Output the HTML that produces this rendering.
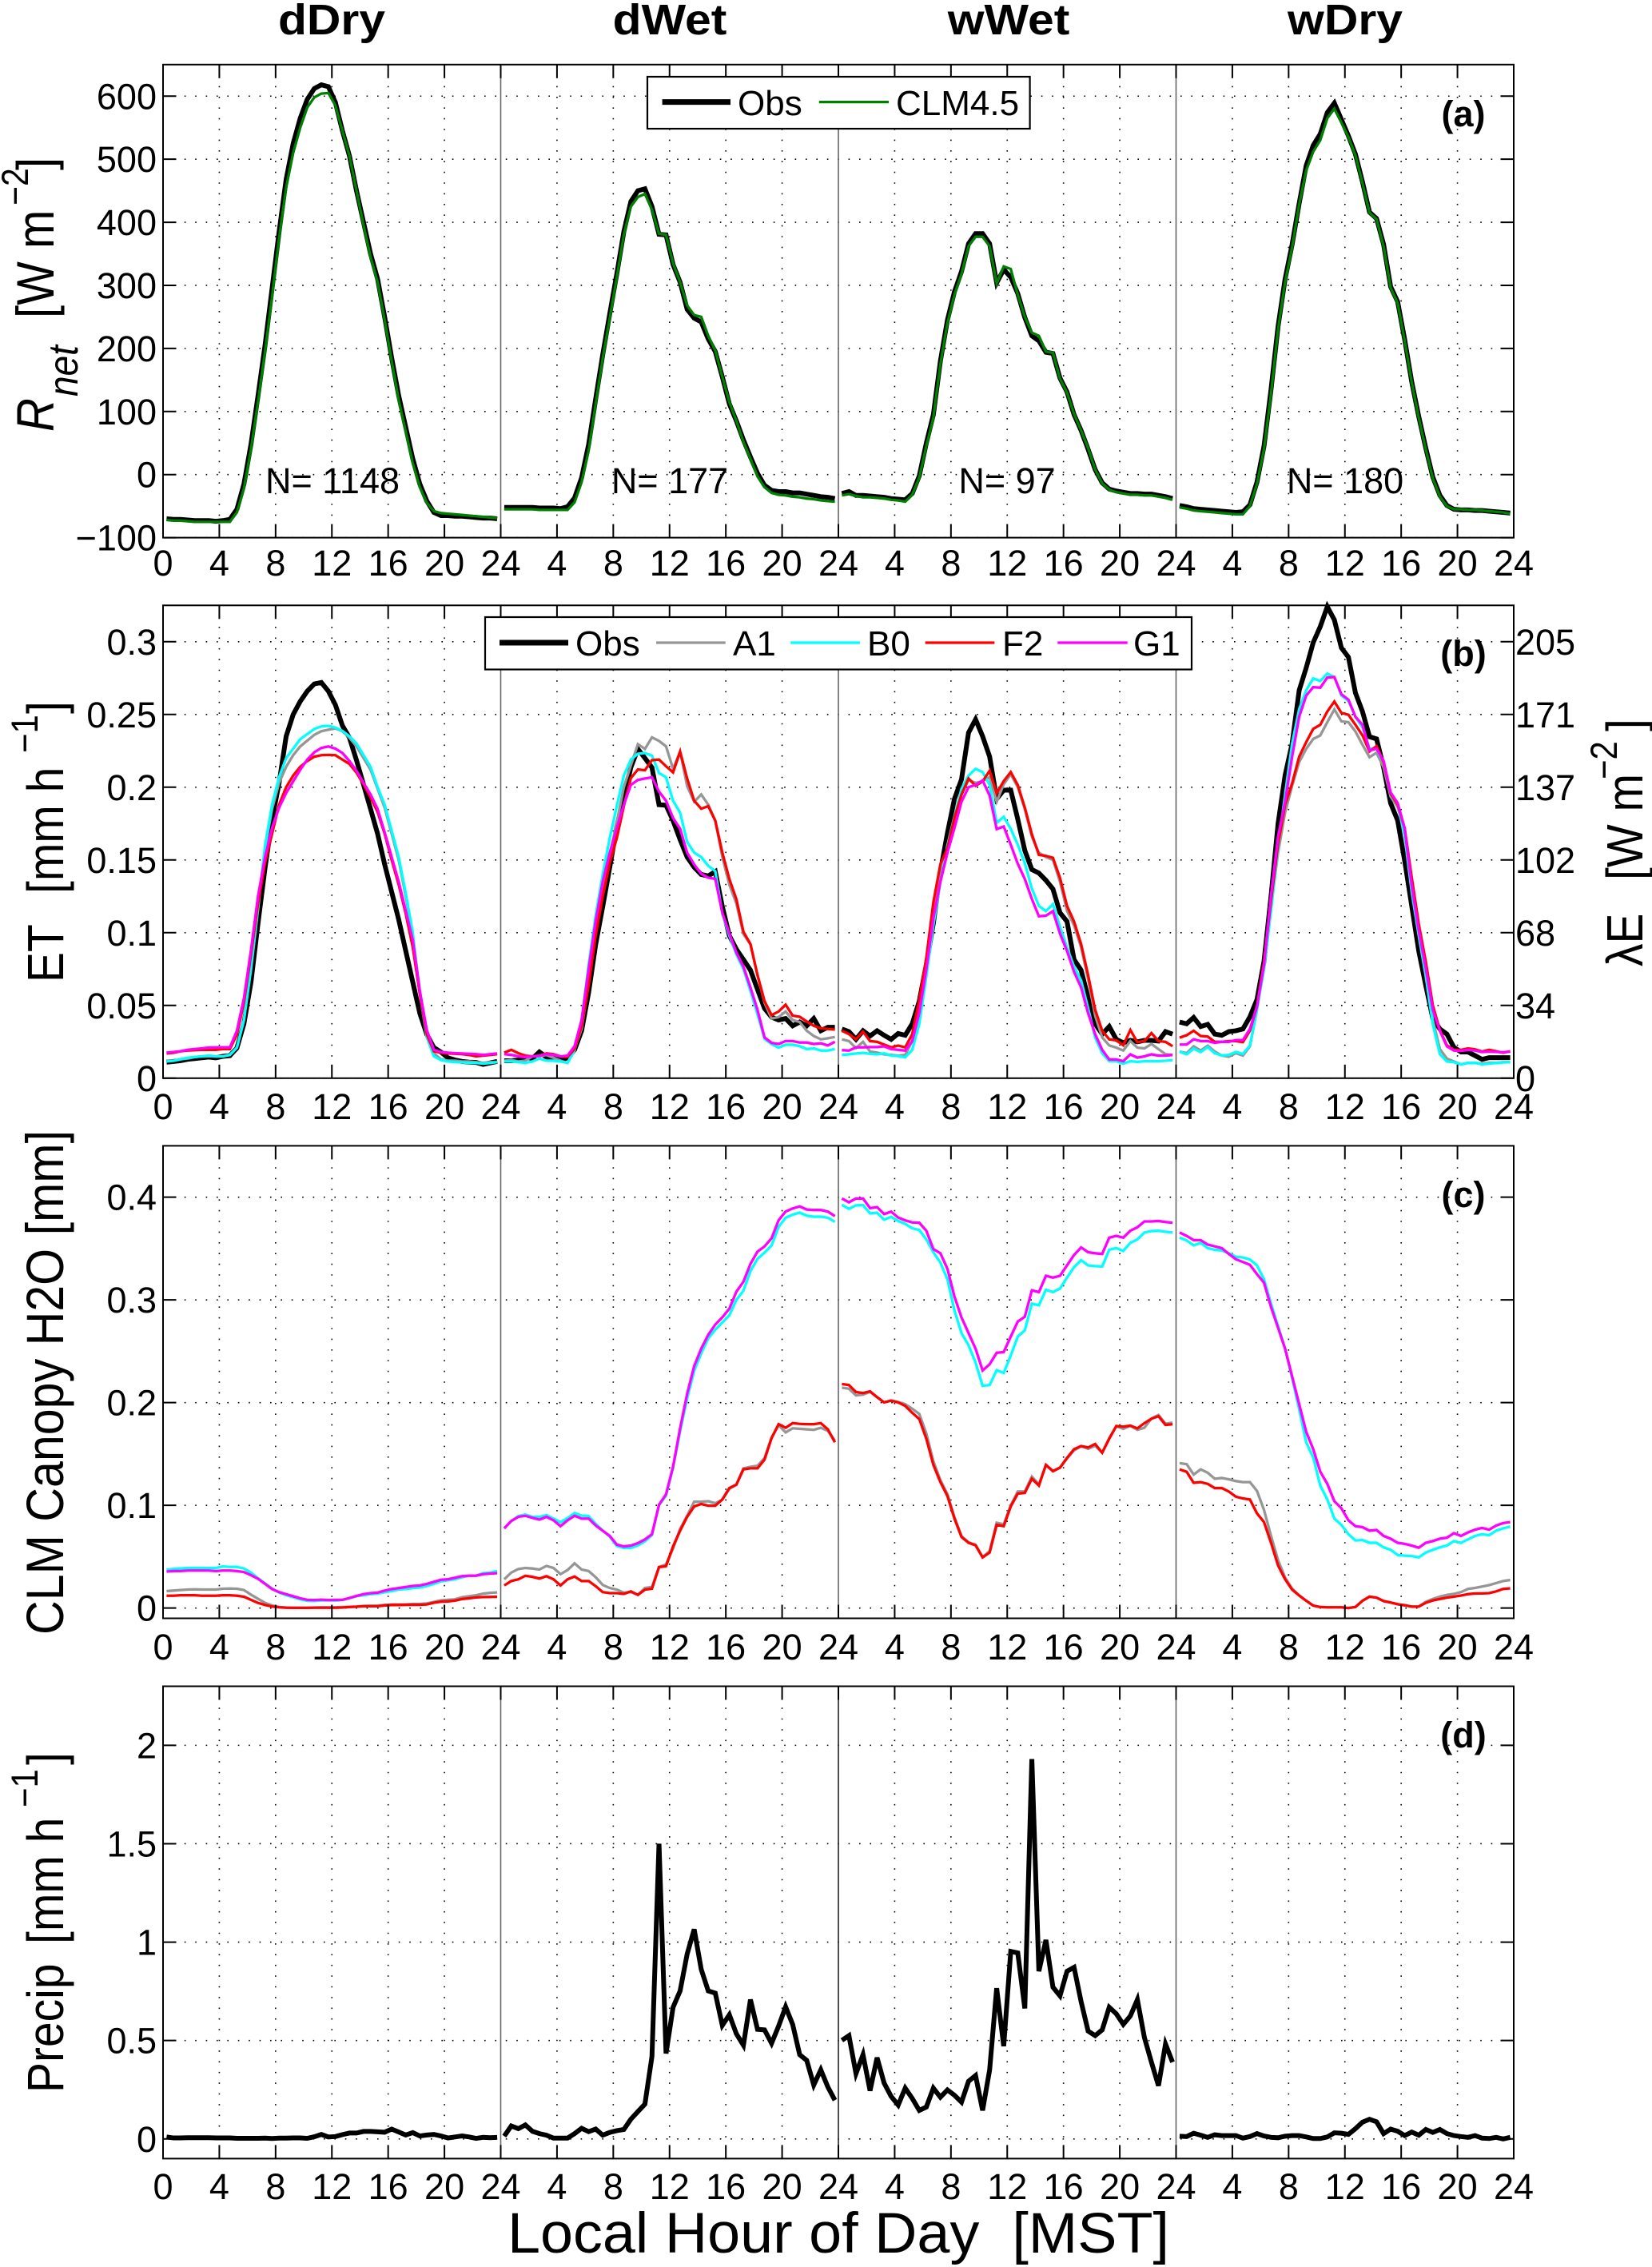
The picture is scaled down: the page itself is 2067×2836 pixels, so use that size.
<!DOCTYPE html>
<html lang="en">
<head>
<meta charset="utf-8">
<title>Diurnal composites by regime</title>
<style>
html,body{margin:0;padding:0;background:#fff;}
svg{display:block;}
text{font-family:"Liberation Sans",sans-serif;fill:#000;white-space:pre;}
</style>
</head>
<body>
<svg id="figure" xmlns="http://www.w3.org/2000/svg" width="2067" height="2836" viewBox="0 0 2067 2836">
<rect x="0" y="0" width="2067" height="2836" fill="#fff"/>
<g id="grid-layer"></g>
<g id="series-layer"></g>
<g id="axes-layer"></g>

<g font-weight="bold" font-size="54" text-anchor="middle">
<text transform="translate(415,43) scale(1.09,1)">dDry</text>
<text transform="translate(838,43) scale(1.09,1)">dWet</text>
<text transform="translate(1262,43) scale(1.09,1)">wWet</text>
<text transform="translate(1683,43) scale(1.09,1)">wDry</text>
</g>

<g font-size="45" text-anchor="middle">
<text x="416" y="617">N= 1148</text>
<text x="838" y="617">N= 177</text>
<text x="1260" y="617">N= 97</text>
<text x="1683" y="617">N= 180</text>
</g>

<g font-size="45" font-weight="bold" text-anchor="middle">
<text x="1831" y="158">(a)</text>
<text x="1831" y="833">(b)</text>
<text x="1831" y="1510">(c)</text>
<text x="1831" y="2186">(d)</text>
</g>

<g>
<rect x="810" y="96" width="478.6" height="65" fill="#fff" stroke="#000" stroke-width="2.2"/>
<line x1="828.6" x2="914" y1="127.6" y2="127.6" stroke="#000" stroke-width="7"/>
<text x="923" y="144" font-size="44">Obs</text>
<line x1="1024.8" x2="1112" y1="127.6" y2="127.6" stroke="#008000" stroke-width="3.3"/>
<text x="1121" y="144" font-size="44">CLM4.5</text>
</g>

<g>
<rect x="607" y="772" width="884" height="65.5" fill="#fff" stroke="#000" stroke-width="2.2"/>
<line x1="625" x2="711" y1="804" y2="804" stroke="#000" stroke-width="7"/>
<text x="720" y="820" font-size="44">Obs</text>
<line x1="821" x2="907.7" y1="804" y2="804" stroke="#969696" stroke-width="3.3"/>
<text x="917" y="820" font-size="44">A1</text>
<line x1="989.3" x2="1076" y1="804" y2="804" stroke="#00ffff" stroke-width="3.3"/>
<text x="1085" y="820" font-size="44">B0</text>
<line x1="1157.7" x2="1244.3" y1="804" y2="804" stroke="#ff0000" stroke-width="3.3"/>
<text x="1254" y="820" font-size="44">F2</text>
<line x1="1323.3" x2="1410.7" y1="804" y2="804" stroke="#ff00ff" stroke-width="3.3"/>
<text x="1418" y="820" font-size="44">G1</text>
</g>

<g>
<text font-size="58" font-style="italic" transform="translate(67,540) scale(1.13,1) rotate(-90)">R</text>
<text font-size="46" font-style="italic" transform="translate(97,496) scale(1.13,1) rotate(-90)">net</text>
<text font-size="58" transform="translate(67,398) scale(1.13,1) rotate(-90)">[W m</text>
<text font-size="41" transform="translate(35,257) scale(1.15,1) rotate(-90)">−2</text>
<text font-size="58" transform="translate(66,213) scale(1.1,1) rotate(-90)">]</text>
</g>

<g>
<text font-size="57" transform="translate(79,1229) scale(1.13,1) rotate(-90)">ET</text>
<text font-size="57" transform="translate(79,1118) scale(1.13,1) rotate(-90)">[mm h</text>
<text font-size="42" transform="translate(47,942) scale(1.13,1) rotate(-90)">−1</text>
<text font-size="57" transform="translate(79,893) scale(1.13,1) rotate(-90)">]</text>
</g>

<g>
<text font-size="57" transform="translate(2055,1209) scale(1.13,1) rotate(-90)">λE</text>
<text font-size="57" transform="translate(2055,1101) scale(1.13,1) rotate(-90)">[W m</text>
<text font-size="42" transform="translate(2023,975) scale(1.13,1) rotate(-90)">−2</text>
<text font-size="57" transform="translate(2055,915) scale(1.13,1) rotate(-90)">]</text>
</g>

<text font-size="58" textLength="631" lengthAdjust="spacingAndGlyphs" transform="translate(79,2045) scale(1.13,1) rotate(-90)">CLM Canopy H2O [mm]</text>

<g>
<text font-size="57" transform="translate(79,2618) scale(1.13,1) rotate(-90)">Precip</text>
<text font-size="57" transform="translate(79,2432) scale(1.13,1) rotate(-90)">[mm h</text>
<text font-size="42" transform="translate(47,2261) scale(1.13,1) rotate(-90)">−1</text>
<text font-size="57" transform="translate(79,2208) scale(1.13,1) rotate(-90)">]</text>
</g>

<text x="635" y="2818" font-size="71" textLength="828" lengthAdjust="spacingAndGlyphs">Local Hour of Day  [MST]</text>

<script>
const hours = [0.25,0.75,1.25,1.75,2.25,2.75,3.25,3.75,4.25,4.75,5.25,5.75,6.25,6.75,7.25,7.75,8.25,8.75,9.25,9.75,10.25,10.75,11.25,11.75,12.25,12.75,13.25,13.75,14.25,14.75,15.25,15.75,16.25,16.75,17.25,17.75,18.25,18.75,19.25,19.75,20.25,20.75,21.25,21.75,22.25,22.75,23.25,23.75];

const hourTickValues = [0,4,8,12,16,20,24];
const rnetTicks = [-100,0,100,200,300,400,500,600];
const rnetTickLabels = ['−100','0','100','200','300','400','500','600'];
const etTicks = [0,0.05,0.1,0.15,0.2,0.25,0.3];
const etTickLabels = ['0','0.05','0.1','0.15','0.2','0.25','0.3'];
const latentTickLabels = ['0','34','68','102','137','171','205'];
const canopyTicks = [0,0.1,0.2,0.3,0.4];
const canopyTickLabels = ['0','0.1','0.2','0.3','0.4'];
const precipTicks = [0,0.5,1,1.5,2];
const precipTickLabels = ['0','0.5','1','1.5','2'];

/* Panel (a) net radiation */
const rnetObsDDry = [-70,-71,-71,-72,-73,-73,-73,-74,-73,-71,-55,-15,48,125,205,295,385,468,525,565,595,612,618,615,590,545,505,450,400,350,310,250,185,125,75,25,-15,-42,-60,-65,-65,-66,-66,-67,-68,-69,-69,-70];
const rnetClmDDry = [-72,-73,-73,-74,-75,-75,-75,-75,-75,-75,-60,-22,40,115,195,282,375,455,510,550,582,598,604,605,585,545,505,450,395,345,305,245,180,118,68,18,-20,-45,-58,-61,-62,-63,-64,-65,-66,-67,-68,-69];
const rnetObsDWet = [-52,-52,-52,-52,-52,-53,-53,-53,-54,-51,-37,-5,48,120,190,255,318,385,433,450,453,425,381,380,333,305,262,248,242,215,195,155,112,85,55,28,2,-17,-25,-27,-27,-29,-29,-31,-33,-35,-36,-38];
const rnetClmDWet = [-55,-55,-55,-55,-55,-56,-56,-56,-56,-56,-44,-12,38,112,184,248,312,380,425,440,445,420,382,380,335,305,268,253,250,220,197,155,115,85,52,25,-3,-20,-29,-32,-33,-35,-36,-38,-39,-41,-42,-43];
const rnetObsWWet = [-30,-27,-33,-33,-34,-35,-36,-38,-39,-40,-30,-2,50,95,180,245,290,322,366,382,382,366,304,325,313,287,249,220,212,194,192,153,131,95,70,40,8,-13,-23,-26,-28,-30,-30,-31,-31,-33,-35,-38];
const rnetClmWWet = [-33,-31,-34,-36,-36,-37,-38,-40,-41,-43,-32,-5,45,90,175,240,285,318,362,377,377,362,303,330,326,285,250,225,220,195,193,152,130,96,70,42,8,-14,-24,-28,-30,-32,-32,-33,-33,-35,-37,-40];
const rnetObsWDry = [-49,-51,-54,-55,-56,-57,-58,-59,-60,-59,-48,-12,45,135,235,310,365,430,490,522,540,574,589,563,537,508,464,416,406,365,298,274,214,147,92,42,-4,-33,-49,-55,-56,-56,-57,-57,-58,-59,-60,-61];
const rnetClmWDry = [-52,-54,-57,-58,-59,-60,-61,-62,-63,-63,-50,-15,40,128,230,305,360,428,482,512,530,565,580,558,535,506,462,415,405,362,296,272,212,146,90,40,-6,-35,-50,-55,-55,-56,-56,-57,-58,-59,-60,-62];

/* Panel (b) evapotranspiration */
const etObsDDry = [.011,.0115,.012,.013,.0135,.014,.0145,.014,.015,.0155,.0207,.0374,.066,.1065,.1446,.178,.203,.235,.25,.259,.266,.271,.272,.266,.2566,.2423,.234,.2185,.2018,.185,.168,.147,.128,.109,.0875,.066,.0446,.03,.021,.018,.014,.0125,.0115,.011,.0108,.0095,.0105,.0115];
const etA1DDry = [.012,.012,.013,.0135,.0145,.015,.015,.015,.015,.016,.021,.04,.075,.116,.158,.185,.203,.214,.222,.228,.232,.236,.2385,.2395,.2404,.2385,.234,.228,.22,.212,.199,.186,.168,.15,.125,.098,.06,.03,.017,.013,.012,.012,.0115,.0115,.011,.0105,.011,.011];
const etB0DDry = [.0115,.012,.013,.014,.0145,.015,.0155,.015,.015,.016,.021,.04,.075,.117,.16,.188,.207,.22,.2265,.233,.2365,.24,.2418,.2422,.241,.2387,.235,.23,.222,.214,.2,.188,.17,.152,.127,.1,.058,.028,.015,.0125,.0115,.011,.0108,.0105,.0105,.01,.0105,.011];
const etF2DDry = [.017,.0175,.0185,.019,.0193,.0195,.0195,.0195,.02,.02,.03,.052,.085,.12,.148,.168,.188,.2,.208,.214,.218,.221,.222,.2222,.222,.219,.216,.21,.202,.193,.183,.168,.15,.133,.113,.09,.058,.03,.0185,.0175,.017,.0168,.0165,.016,.015,.0155,.016,.0165];
const etG1DDry = [.0175,.018,.0185,.0195,.02,.0205,.021,.0212,.0212,.0212,.0326,.055,.088,.125,.152,.172,.186,.196,.204,.212,.219,.224,.227,.228,.2265,.2235,.218,.2113,.203,.195,.185,.169,.152,.135,.115,.095,.06,.033,.0195,.018,.0175,.0172,.017,.0168,.0165,.016,.0165,.017];

const etObsDWet = [.012,.012,.0125,.0145,.0135,.018,.0145,.0135,.0125,.014,.0195,.0326,.059,.092,.118,.145,.173,.192,.2137,.2263,.22,.2135,.188,.1876,.177,.164,.152,.145,.14,.139,.142,.118,.098,.0886,.0815,.0743,.061,.048,.042,.04,.041,.036,.0386,.036,.041,.0326,.035,.035];
const etA1DWet = [.012,.0125,.0115,.012,.015,.015,.016,.014,.012,.0105,.02,.034,.065,.1,.128,.153,.176,.2,.215,.2296,.2263,.2343,.2318,.2281,.2126,.2245,.2007,.19,.195,.188,.177,.152,.133,.12,.099,.092,.071,.052,.041,.042,.0458,.04,.0386,.0326,.029,.0267,.0274,.0283];
const etB0DWet = [.0115,.0115,.011,.0105,.0115,.0135,.012,.012,.0115,.0105,.019,.04,.078,.112,.14,.165,.187,.208,.219,.223,.2235,.2217,.2098,.2068,.1907,.1825,.1624,.155,.152,.146,.1423,.113,.098,.085,.075,.06,.044,.027,.0235,.021,.023,.023,.022,.02,.0205,.019,.019,.02];
const etF2DWet = [.0175,.0195,.0172,.0155,.015,.0155,.017,.0165,.015,.0145,.02,.036,.064,.098,.125,.148,.165,.187,.2062,.2122,.2117,.2186,.219,.2144,.2102,.2245,.206,.1907,.1852,.187,.177,.1551,.1369,.123,.1006,.0922,.0708,.053,.0434,.0458,.0505,.043,.0422,.039,.036,.0343,.0338,.0334];
const etG1DWet = [.0165,.016,.015,.0145,.015,.0155,.0165,.016,.015,.0155,.022,.04,.075,.108,.135,.155,.172,.188,.2016,.205,.206,.2068,.197,.1907,.1788,.1715,.155,.1469,.1405,.1378,.137,.1137,.0994,.0863,.0767,.0624,.047,.028,.0243,.0235,.0255,.0255,.0245,.0245,.0235,.024,.0225,.025];

const etObsWWet = [.0338,.032,.0267,.0326,.029,.0326,.0295,.0267,.0307,.0295,.0374,.053,.078,.1065,.142,.1685,.192,.2054,.2375,.2466,.235,.221,.192,.198,.198,.178,.1565,.1434,.141,.136,.13,.1137,.1077,.0815,.0743,.0553,.0374,.0303,.0355,.0267,.0243,.026,.025,.026,.026,.0255,.032,.0303];
const etA1WWet = [.0267,.0255,.0207,.025,.0183,.0176,.0164,.016,.0155,.016,.0255,.05,.08,.118,.145,.158,.178,.195,.205,.203,.204,.207,.19,.202,.209,.2,.185,.166,.155,.152,.15,.135,.115,.105,.09,.068,.043,.028,.0225,.021,.019,.0255,.021,.0205,.0235,.02,.0165,.016];
const etB0WWet = [.016,.0164,.017,.0174,.0167,.0164,.017,.0155,.0152,.0143,.0195,.0374,.07,.105,.135,.16,.18,.1989,.208,.2126,.2104,.2016,.1755,.1797,.1714,.1605,.1478,.1303,.1184,.1148,.1196,.104,.0898,.0767,.0672,.048,.0279,.0172,.0117,.0117,.01,.0117,.0112,.0117,.0117,.0117,.012,.0124];
const etF2WWet = [.0326,.0303,.0267,.032,.0255,.025,.0231,.0212,.0224,.0212,.0303,.054,.0827,.1208,.147,.158,.179,.195,.206,.201,.204,.2113,.1958,.2042,.2104,.2015,.186,.1677,.1535,.1528,.1515,.1377,.1184,.1077,.0922,.0708,.047,.0326,.0267,.026,.0226,.0331,.0248,.0255,.031,.0255,.025,.022];
const etG1WWet = [.0193,.019,.0212,.0212,.0214,.0214,.0219,.02,.0195,.019,.0255,.045,.075,.11,.135,.155,.172,.19,.2,.2016,.2047,.1943,.1712,.173,.1605,.1474,.1369,.1232,.1113,.1117,.1148,.0994,.0874,.0731,.0624,.0446,.0303,.0195,.0129,.0129,.0117,.0164,.0141,.015,.0164,.0155,.0155,.016];

const etObsWDry = [.0386,.0374,.0417,.0355,.037,.0303,.0295,.032,.0326,.0338,.0422,.054,.0803,.125,.175,.2082,.23,.2666,.2821,.2995,.3104,.3241,.315,.2958,.2894,.2648,.252,.2347,.2332,.2137,.189,.1772,.1494,.1184,.0874,.0636,.041,.0338,.0303,.0212,.018,.018,.0155,.0129,.0141,.0141,.0141,.0141];
const etA1WDry = [.0183,.0172,.0219,.019,.0224,.0183,.0155,.0148,.0172,.0155,.0219,.047,.078,.118,.155,.1827,.2009,.2173,.2264,.2332,.2356,.2447,.2535,.2453,.2447,.2383,.2292,.2206,.2237,.2137,.1936,.1863,.169,.136,.103,.073,.04,.02,.0135,.0115,.0095,.0105,.0105,.01,.0105,.0105,.011,.011];
const etB0WDry = [.0183,.0164,.0203,.018,.0214,.0172,.0155,.016,.018,.0167,.0224,.047,.075,.115,.158,.195,.23,.2537,.2666,.2748,.273,.2781,.2757,.263,.2593,.2484,.241,.2265,.2265,.2173,.1945,.1881,.1662,.128,.098,.07,.037,.0165,.0115,.011,.0095,.0105,.0105,.0095,.01,.0105,.0108,.011];
const etF2WDry = [.0279,.0295,.0326,.029,.0286,.025,.025,.0255,.0255,.0248,.0326,.0493,.08,.122,.1608,.1881,.2027,.221,.231,.2401,.2429,.252,.2589,.2511,.2498,.2429,.2356,.2246,.2283,.2173,.1954,.1881,.1717,.138,.106,.08,.05,.033,.0225,.0195,.0195,.0205,.0198,.0183,.0195,.0185,.0175,.0185];
const etG1WDry = [.0231,.0231,.0267,.0255,.0255,.0243,.025,.025,.0262,.0262,.0338,.0493,.0779,.1256,.166,.19,.221,.2484,.263,.2688,.2684,.2754,.2757,.2639,.2602,.2484,.2429,.2252,.2265,.2182,.1964,.1891,.1717,.1327,.1017,.0755,.047,.0326,.0219,.019,.0188,.0195,.019,.018,.0183,.018,.0178,.0183];

/* Panel (c) canopy water */
const canopyA1DDry = [.0165,.017,.0175,.018,.0182,.018,.018,.018,.0188,.019,.0188,.0175,.013,.009,.005,.0025,.001,.0005,.0003,.0003,.0003,.0005,.0007,.0007,.0007,.001,.0012,.0015,.002,.0022,.0022,.003,.0035,.0035,.0035,.004,.004,.0045,.006,.0075,.008,.0085,.0105,.0115,.0125,.014,.0148,.0152];
const canopyB0DDry = [.0375,.038,.0385,.039,.039,.039,.039,.039,.0405,.04,.04,.0385,.0345,.029,.024,.019,.015,.0125,.0105,.0085,.007,.0068,.0074,.0074,.0072,.0078,.0095,.0115,.0125,.0135,.014,.0155,.0165,.018,.0185,.0195,.02,.0215,.0235,.026,.027,.028,.03,.0315,.0315,.034,.0345,.036];
const canopyF2DDry = [.012,.012,.0125,.0125,.0125,.012,.012,.012,.0125,.0125,.012,.011,.008,.005,.003,.0015,.0007,.0003,.0002,.0002,.0002,.0003,.0003,.0003,.0003,.0005,.001,.0013,.0018,.0018,.0018,.0025,.003,.003,.0032,.0032,.0032,.0035,.0052,.0062,.0065,.0072,.0088,.0095,.0103,.0107,.0108,.011];
const canopyG1DDry = [.0355,.036,.036,.0365,.0365,.0365,.0365,.036,.0365,.0365,.036,.035,.032,.0285,.0235,.0185,.0155,.0135,.0115,.0095,.008,.0078,.0082,.0078,.008,.008,.0098,.0118,.0135,.0145,.015,.017,.0185,.0195,.0205,.0215,.022,.0235,.0255,.0275,.028,.0295,.031,.0315,.0315,.033,.0335,.034];

const canopyA1DWet = [.028,.0345,.038,.039,.0385,.0375,.041,.039,.033,.037,.0435,.0375,.036,.03,.0225,.0195,.018,.015,.0155,.013,.0195,.0205,.04,.0425,.058,.077,.09,.1035,.1035,.104,.102,.1055,.116,.12,.136,.1375,.1385,.146,.166,.178,.171,.175,.1745,.174,.1735,.1755,.1725,.163];
const canopyB0DWet = [.0776,.0847,.0895,.091,.0888,.0888,.0905,.0871,.0835,.0875,.0925,.09,.0895,.082,.0755,.0695,.0605,.0585,.0585,.061,.065,.071,.1,.1095,.1365,.172,.204,.231,.248,.2625,.271,.278,.285,.3,.309,.328,.34,.346,.353,.371,.38,.383,.385,.382,.381,.381,.38,.376];
const canopyF2DWet = [.022,.0263,.028,.0314,.0304,.0287,.031,.028,.022,.028,.0307,.0263,.0263,.0213,.0155,.0145,.0145,.0138,.0162,.0128,.0179,.0189,.0398,.0408,.06,.0753,.0888,.0989,.1013,.0996,.0996,.1057,.1168,.1202,.135,.136,.136,.1445,.1654,.179,.1755,.18,.1793,.179,.179,.18,.174,.1614];
const canopyG1DWet = [.0776,.0847,.0888,.0898,.0878,.0861,.0888,.0854,.0797,.0854,.0898,.0871,.0871,.0804,.0753,.0702,.0618,.06,.0608,.0632,.0668,.0719,.1006,.1107,.1377,.175,.2086,.2356,.2525,.266,.276,.283,.2914,.308,.3177,.335,.347,.352,.36,.3775,.386,.389,.391,.388,.3875,.3875,.386,.3815];

const canopyA1WWet = [.2145,.2135,.207,.2078,.2105,.2053,.2002,.202,.2005,.1985,.194,.189,.17,.143,.1245,.111,.0885,.07,.064,.0615,.0495,.0555,.083,.0815,.1,.1135,.1135,.128,.1205,.139,.133,.1365,.1455,.1535,.1575,.155,.158,.1512,.1655,.177,.1745,.1775,.1735,.1755,.1845,.188,.1795,.1805];
const canopyB0WWet = [.3926,.3886,.392,.3923,.3842,.3849,.3781,.3808,.3768,.3741,.3697,.368,.3589,.3464,.3363,.3201,.2897,.2677,.2559,.239,.2164,.2171,.2316,.2289,.2458,.2643,.2704,.2964,.2947,.3099,.3076,.311,.3217,.3319,.3386,.3336,.3329,.3325,.3488,.3504,.3477,.3555,.3589,.3656,.367,.3673,.3663,.3656];
const canopyF2WWet = [.2181,.2171,.2103,.2093,.211,.2053,.2002,.2019,.2002,.1968,.1901,.184,.1648,.1394,.1226,.109,.0871,.0692,.0635,.0611,.0493,.054,.081,.0797,.0989,.1114,.1121,.1259,.1192,.1394,.1334,.1367,.1462,.1546,.1577,.1563,.1597,.1512,.1648,.1772,.1766,.1776,.1749,.18,.1843,.1867,.1783,.1789];
const canopyG1WWet = [.3987,.395,.3987,.3987,.3893,.3903,.3835,.3859,.3801,.3774,.3754,.3751,.3673,.3494,.3454,.3302,.3032,.2829,.2677,.2525,.2313,.2373,.2485,.2492,.2643,.2789,.2836,.3093,.3076,.3234,.3217,.3234,.3336,.3437,.3511,.3464,.3454,.3447,.3606,.3623,.3606,.3673,.3707,.3764,.3764,.3768,.3758,.3751];

const canopyA1WDry = [.1411,.1401,.13,.135,.1317,.1259,.1266,.1253,.1236,.1226,.1226,.1141,.0955,.0702,.0466,.0297,.0189,.0122,.0071,.0024,.001,.0007,.0007,.0007,0,.001,.0071,.0111,.0101,.0068,.0054,.0037,.0027,.0014,.0014,.0061,.0088,.0111,.0128,.0138,.0155,.0186,.0196,.0209,.0223,.0243,.0263,.0273];
const canopyB0WDry = [.3606,.3579,.3531,.3555,.3504,.3488,.3481,.3454,.342,.3413,.3393,.3336,.3201,.2964,.2745,.2525,.2238,.1935,.1614,.1465,.1192,.1057,.0871,.081,.0719,.0658,.0662,.0635,.0635,.0591,.0567,.0517,.051,.0506,.0493,.054,.0567,.0591,.0608,.0652,.0635,.0668,.0702,.0719,.0709,.0753,.0776,.0793];
const canopyF2WDry = [.135,.1327,.1219,.1226,.1209,.1168,.1168,.1134,.1084,.1067,.1057,.0922,.0837,.0635,.0415,.028,.0179,.0122,.0071,.0024,.001,.0007,.0007,.0007,0,.001,.0071,.0111,.0101,.0068,.0054,.0037,.0027,.0014,.0014,.0051,.0074,.0088,.0101,.0111,.0122,.0135,.0142,.0142,.0145,.0162,.0186,.0192];
const canopyG1WDry = [.3656,.3623,.3582,.3582,.3538,.3521,.3504,.3447,.3396,.3369,.3342,.3251,.3167,.293,.2728,.2525,.2255,.1985,.1715,.1546,.1327,.1209,.104,.0972,.0854,.0797,.0787,.0753,.076,.0702,.0675,.0635,.0625,.0608,.0587,.0635,.0652,.0675,.0685,.0729,.0702,.0736,.0763,.078,.0763,.0803,.0827,.0837];

/* Panel (d) precipitation */
const precipDDry = [.01,.005,.005,.006,.006,.006,.006,.005,.005,.005,.003,.003,.003,.003,.004,.002,.004,.004,.005,.005,.003,.011,.023,.01,.012,.022,.03,.03,.038,.038,.036,.034,.05,.035,.02,.032,.015,.02,.023,.015,.005,.01,.015,.01,.003,.008,.006,.008];
const precipDWet = [.014,.066,.052,.071,.039,.027,.019,.004,.004,.004,.027,.054,.037,.05,.019,.033,.042,.048,.1,.139,.177,.419,1.5,.434,.669,.752,.939,1.065,.862,.752,.741,.577,.631,.534,.476,.708,.557,.554,.486,.573,.671,.582,.428,.399,.274,.351,.264,.197];
const precipWWet = [.501,.525,.332,.428,.245,.413,.284,.216,.172,.258,.206,.145,.162,.258,.212,.249,.222,.187,.293,.322,.145,.351,.766,.471,.953,.945,.663,1.93,.852,1.011,.771,.727,.852,.872,.698,.548,.525,.554,.669,.636,.582,.625,.708,.515,.39,.27,.482,.39];
const precipWDry = [.014,.012,.029,.019,.008,.021,.017,.017,.017,.004,.012,.027,.015,.008,.006,.014,.017,.017,.01,.002,.002,.01,.031,.029,.023,.052,.085,.1,.087,.027,.05,.039,.017,.035,.019,.048,.033,.048,.027,.017,.012,.008,.017,.004,.002,.008,0,.008];

const NS = 'http://www.w3.org/2000/svg';
const LEFT = 204, SEG_W = 422.5, SEGMENTS = 4, RIGHT = LEFT + SEG_W * SEGMENTS;
const TICK_X = 17, TICK_Y = 16.5, DOT = '1.6 11.8';

const panelA = {id:'a', top:80.8, bottom:672.6, min:-100, max:650, labelY:720};
const panelB = {id:'b', top:757.3, bottom:1348.8, min:0, max:0.325, labelY:1400};
const panelC = {id:'c', top:1433.4, bottom:2024.5, min:-0.01, max:0.45, labelY:2076};
const panelD = {id:'d', top:2109.5, bottom:2700.4, min:-0.1, max:2.3, labelY:2751};

function xAxis(seg, hour) { return LEFT + seg * SEG_W + hour * SEG_W / 24; }
function yAxis(panel, value) { return panel.bottom - (value - panel.min) * (panel.bottom - panel.top) / (panel.max - panel.min); }

const gridLayer = document.getElementById('grid-layer');
const seriesLayer = document.getElementById('series-layer');
const axesLayer = document.getElementById('axes-layer');

function addLine(parent, x1, y1, x2, y2, color, width, dash) {
  const ln = document.createElementNS(NS, 'line');
  ln.setAttribute('x1', x1);
  ln.setAttribute('y1', y1);
  ln.setAttribute('x2', x2);
  ln.setAttribute('y2', y2);
  ln.setAttribute('stroke', color);
  ln.setAttribute('stroke-width', width);
  if (dash) ln.setAttribute('stroke-dasharray', dash);
  parent.appendChild(ln);
  return ln;
}

function addLabel(x, y, str, anchor) {
  const t = document.createElementNS(NS, 'text');
  t.setAttribute('x', x);
  t.setAttribute('y', y);
  t.setAttribute('font-size', 45);
  t.setAttribute('text-anchor', anchor);
  t.textContent = str;
  axesLayer.appendChild(t);
  return t;
}

function drawSeries(panel, seg, values, color, width, name) {
  const p = document.createElementNS(NS, 'path');
  const d = values.map(function (v, i) {
    return (i ? 'L' : 'M') + xAxis(seg, hours[i]).toFixed(2) + ' ' + yAxis(panel, v).toFixed(2);
  }).join('');
  p.setAttribute('d', d);
  p.setAttribute('fill', 'none');
  p.setAttribute('stroke', color);
  p.setAttribute('stroke-width', width);
  p.setAttribute('stroke-linejoin', 'miter');
  
  
  seriesLayer.appendChild(p);
}

function drawAxes(panel, yTicks, yLabels) {
  yTicks.forEach(function (v, i) {
    const y = yAxis(panel, v);
    const g = addLine(gridLayer, LEFT, y, RIGHT, y, '#000', 1.6, DOT);
    
    
    const tl = addLine(axesLayer, LEFT, y, LEFT + TICK_Y, y, '#000', 2);
    
    
    const tr = addLine(axesLayer, RIGHT - TICK_Y, y, RIGHT, y, '#000', 2);
    
    
    const lab = addLabel(LEFT - 8, y + 16, yLabels[i], 'end');
    
    
  });
  for (let seg = 0; seg < SEGMENTS; seg++) {
    hourTickValues.forEach(function (h) {
      const x = xAxis(seg, h);
      if (h === 0 && seg > 0) return;
      if (h > 0 && h < 24) {
        const g = addLine(gridLayer, x, panel.top, x, panel.bottom, '#000', 1.6, DOT);
        
        
      } else if (h === 24 && seg < SEGMENTS - 1) {
        const color = (panel.id === 'd' && seg === 1) ? '#222' : '#666';
        const dv = addLine(gridLayer, x, panel.top, x, panel.bottom, color, 1.6);
        
        
      }
      const tb = addLine(axesLayer, x, panel.bottom - TICK_X, x, panel.bottom, '#000', 2);
      
      
      const tt = addLine(axesLayer, x, panel.top, x, panel.top + TICK_X, '#000', 2);
      
      
      const lab = addLabel(x, panel.labelY, String(h), 'middle');
      
      
    });
  }
  const frame = document.createElementNS(NS, 'rect');
  frame.setAttribute('x', LEFT);
  frame.setAttribute('y', panel.top);
  frame.setAttribute('width', RIGHT - LEFT);
  frame.setAttribute('height', panel.bottom - panel.top);
  frame.setAttribute('fill', 'none');
  frame.setAttribute('stroke', '#000');
  frame.setAttribute('stroke-width', 2);
  
  
  axesLayer.appendChild(frame);
}

drawAxes(panelA, rnetTicks, rnetTickLabels);
drawAxes(panelB, etTicks, etTickLabels);
drawAxes(panelC, canopyTicks, canopyTickLabels);
drawAxes(panelD, precipTicks, precipTickLabels);

etTicks.forEach(function (v, i) {
  const lab = addLabel(RIGHT + 2, yAxis(panelB, v) + 16, latentTickLabels[i], 'start');
  
  
});

const BLACK = '#000', GREEN = '#008000', GRAY = '#969696', CYAN = '#00ffff', RED = '#ff0000', MAGENTA = '#ff00ff';
const THICK = 6, THIN = 3.3;

drawSeries(panelA, 0, rnetObsDDry, BLACK, THICK, 'rnet-obs-ddry');
drawSeries(panelA, 0, rnetClmDDry, GREEN, THIN, 'rnet-clm-ddry');
drawSeries(panelA, 1, rnetObsDWet, BLACK, THICK, 'rnet-obs-dwet');
drawSeries(panelA, 1, rnetClmDWet, GREEN, THIN, 'rnet-clm-dwet');
drawSeries(panelA, 2, rnetObsWWet, BLACK, THICK, 'rnet-obs-wwet');
drawSeries(panelA, 2, rnetClmWWet, GREEN, THIN, 'rnet-clm-wwet');
drawSeries(panelA, 3, rnetObsWDry, BLACK, THICK, 'rnet-obs-wdry');
drawSeries(panelA, 3, rnetClmWDry, GREEN, THIN, 'rnet-clm-wdry');

drawSeries(panelB, 0, etObsDDry, BLACK, THICK, 'et-obs-ddry');
drawSeries(panelB, 0, etA1DDry, GRAY, THIN, 'et-a1-ddry');
drawSeries(panelB, 0, etB0DDry, CYAN, THIN, 'et-b0-ddry');
drawSeries(panelB, 0, etF2DDry, RED, THIN, 'et-f2-ddry');
drawSeries(panelB, 0, etG1DDry, MAGENTA, THIN, 'et-g1-ddry');
drawSeries(panelB, 1, etObsDWet, BLACK, THICK, 'et-obs-dwet');
drawSeries(panelB, 1, etA1DWet, GRAY, THIN, 'et-a1-dwet');
drawSeries(panelB, 1, etB0DWet, CYAN, THIN, 'et-b0-dwet');
drawSeries(panelB, 1, etF2DWet, RED, THIN, 'et-f2-dwet');
drawSeries(panelB, 1, etG1DWet, MAGENTA, THIN, 'et-g1-dwet');
drawSeries(panelB, 2, etObsWWet, BLACK, THICK, 'et-obs-wwet');
drawSeries(panelB, 2, etA1WWet, GRAY, THIN, 'et-a1-wwet');
drawSeries(panelB, 2, etB0WWet, CYAN, THIN, 'et-b0-wwet');
drawSeries(panelB, 2, etF2WWet, RED, THIN, 'et-f2-wwet');
drawSeries(panelB, 2, etG1WWet, MAGENTA, THIN, 'et-g1-wwet');
drawSeries(panelB, 3, etObsWDry, BLACK, THICK, 'et-obs-wdry');
drawSeries(panelB, 3, etA1WDry, GRAY, THIN, 'et-a1-wdry');
drawSeries(panelB, 3, etB0WDry, CYAN, THIN, 'et-b0-wdry');
drawSeries(panelB, 3, etF2WDry, RED, THIN, 'et-f2-wdry');
drawSeries(panelB, 3, etG1WDry, MAGENTA, THIN, 'et-g1-wdry');

drawSeries(panelC, 0, canopyA1DDry, GRAY, THIN, 'canopy-a1-ddry');
drawSeries(panelC, 0, canopyB0DDry, CYAN, THIN, 'canopy-b0-ddry');
drawSeries(panelC, 0, canopyF2DDry, RED, THIN, 'canopy-f2-ddry');
drawSeries(panelC, 0, canopyG1DDry, MAGENTA, THIN, 'canopy-g1-ddry');
drawSeries(panelC, 1, canopyA1DWet, GRAY, THIN, 'canopy-a1-dwet');
drawSeries(panelC, 1, canopyB0DWet, CYAN, THIN, 'canopy-b0-dwet');
drawSeries(panelC, 1, canopyF2DWet, RED, THIN, 'canopy-f2-dwet');
drawSeries(panelC, 1, canopyG1DWet, MAGENTA, THIN, 'canopy-g1-dwet');
drawSeries(panelC, 2, canopyA1WWet, GRAY, THIN, 'canopy-a1-wwet');
drawSeries(panelC, 2, canopyB0WWet, CYAN, THIN, 'canopy-b0-wwet');
drawSeries(panelC, 2, canopyF2WWet, RED, THIN, 'canopy-f2-wwet');
drawSeries(panelC, 2, canopyG1WWet, MAGENTA, THIN, 'canopy-g1-wwet');
drawSeries(panelC, 3, canopyA1WDry, GRAY, THIN, 'canopy-a1-wdry');
drawSeries(panelC, 3, canopyB0WDry, CYAN, THIN, 'canopy-b0-wdry');
drawSeries(panelC, 3, canopyF2WDry, RED, THIN, 'canopy-f2-wdry');
drawSeries(panelC, 3, canopyG1WDry, MAGENTA, THIN, 'canopy-g1-wdry');

drawSeries(panelD, 0, precipDDry, BLACK, THICK, 'precip-ddry');
drawSeries(panelD, 1, precipDWet, BLACK, THICK, 'precip-dwet');
drawSeries(panelD, 2, precipWWet, BLACK, THICK, 'precip-wwet');
drawSeries(panelD, 3, precipWDry, BLACK, THICK, 'precip-wdry');
</script>
</svg>
</body>
</html>
